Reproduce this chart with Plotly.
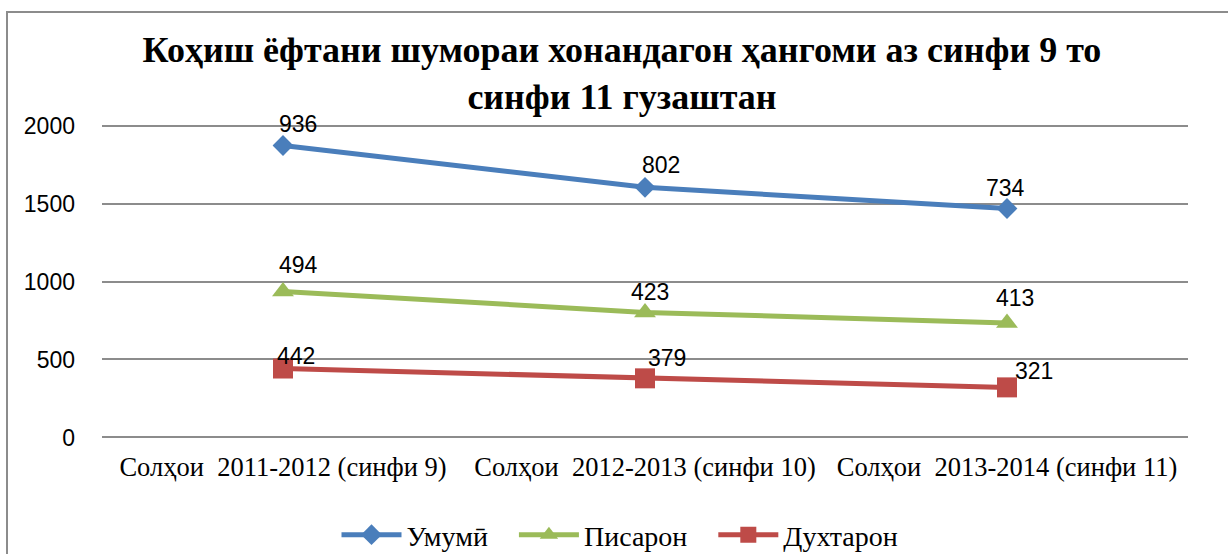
import plotly.graph_objects as go
import numpy as np

categories = ["Солҳои\u00a0 2011-2012 (синфи 9)",
              "Солҳои\u00a0 2012-2013 (синфи 10)",
              "Солҳои\u00a0 2013-2014 (синфи 11)"]
series_names = ["Умумӣ", "Писарон", "Духтарон"]
dukhtaron = [442, 379, 321]
pisaron = [494, 423, 413]
umumi = [936, 802, 734]

# Stacked line chart (as in the original Excel chart)
red_y = np.array(dukhtaron)
green_y = red_y + np.array(pisaron)
blue_y = green_y + np.array(umumi)

BLUE = "#4A7EBB"
GREEN = "#9BBB59"
RED = "#BE4B48"
PAD = "\u00a0\u00a0\u00a0"  # spacing between legend entries

fig = go.Figure()
fig.add_trace(go.Scatter(x=categories, y=blue_y, name=series_names[0] + PAD, mode="lines+markers",
                         line=dict(color=BLUE, width=5),
                         marker=dict(symbol="diamond", size=16, color=BLUE)))
fig.add_trace(go.Scatter(x=categories, y=green_y, name=series_names[1] + PAD, mode="lines+markers",
                         line=dict(color=GREEN, width=5),
                         marker=dict(symbol="triangle-up", size=19, color=GREEN)))
fig.add_trace(go.Scatter(x=categories, y=red_y, name=series_names[2], mode="lines+markers",
                         line=dict(color=RED, width=5),
                         marker=dict(symbol="square", size=20, color=RED)))

label_font = dict(family="Liberation Sans, Arial", size=23, color="#000000")
shifts = {
    "blue": [(15, 22), (16, 22), (-2, 21)],
    "green": [(15, 26), (5, 20), (8, 25)],
    "red": [(13, 13), (22, 20), (27, 16)],
}
for vals, ys, key in [(umumi, blue_y, "blue"), (pisaron, green_y, "green"), (dukhtaron, red_y, "red")]:
    for i, (v, yv) in enumerate(zip(vals, ys)):
        dx, dy = shifts[key][i]
        fig.add_annotation(x=categories[i], y=float(yv), text=str(v), showarrow=False,
                           xshift=dx, yshift=dy, font=label_font)

# plot area: top 124, bottom 439 (range padded so that the 0 and 2000 gridlines are drawn)
T, B = 124, 439
H = B - T
fig.add_shape(type="rect", xref="paper", yref="paper",
              x0=(7 - 102) / 1086, x1=1.06, y0=-0.45, y1=(B - 12) / H,
              line=dict(color="#8C8C8C", width=2), fillcolor="rgba(0,0,0,0)", layer="below")

fig.update_layout(
    width=1228, height=554,
    margin=dict(l=102, r=40, t=T, b=554 - B, autoexpand=False),
    paper_bgcolor="white", plot_bgcolor="white",
    title=dict(text="<b>Коҳиш ёфтани шумораи хонандагон ҳангоми аз синфи 9 то<br>синфи 11 гузаштан</b>",
               x=0.5065, xanchor="center", y=1 - 62 / 554, yanchor="middle", yref="container",
               font=dict(family="Liberation Serif, Times New Roman", size=36, color="#000000")),
    showlegend=True,
    legend=dict(orientation="h", x=(620 - 102) / 1086, xanchor="center", y=-(535 - B) / H,
                yanchor="middle",
                font=dict(family="Liberation Serif, Times New Roman", size=28, color="#000000"),
                itemwidth=60),
    xaxis=dict(type="category", range=[-0.5, 2.5], showgrid=False, showline=False, zeroline=False,
               tickangle=0, ticks="", ticklabelstandoff=9, automargin=False,
               tickfont=dict(family="Liberation Serif, Times New Roman", size=26.5, color="#000000")),
    yaxis=dict(range=[-10, 2010], tickvals=[0, 500, 1000, 1500, 2000], showgrid=True,
               gridcolor="#8C8C8C", gridwidth=2,
               zeroline=False, showline=False, ticks="", ticklabelstandoff=26, automargin=False,
               tickfont=dict(family="Liberation Sans, Arial", size=23, color="#000000")),
)

fig.write_html("out.html", post_script="document.body.style.margin='0';",
               config={"displayModeBar": False})
